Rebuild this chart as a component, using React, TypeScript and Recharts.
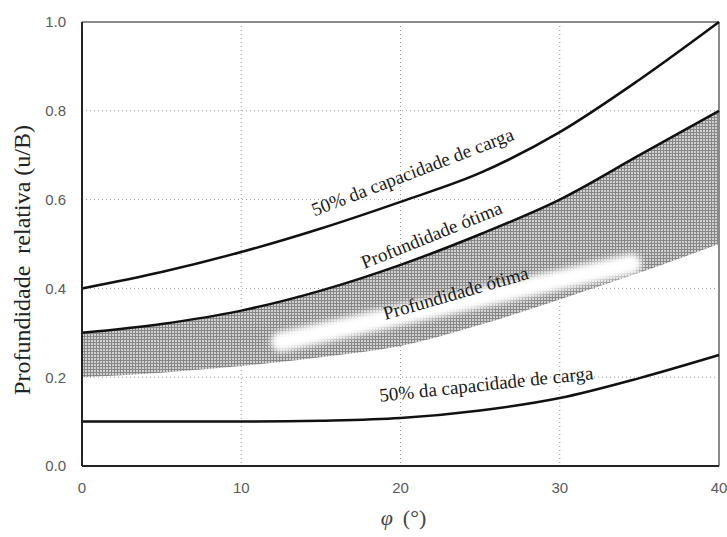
import React from 'react'
import {
    ComposedChart,
    Area,
    Line,
    XAxis,
    YAxis,
    CartesianGrid,
    ReferenceLine,
    ReferenceDot,
} from 'recharts'

// friction angle (degrees)
const phi = [0, 5, 10, 15, 20, 25, 30, 35, 40]
// 50% da capacidade de carga (upper limit)
const upperLimit = [0.4, 0.437, 0.482, 0.535, 0.595, 0.66, 0.752, 0.87, 1.0]
// profundidade otima band
const optTop = [0.3, 0.32, 0.35, 0.395, 0.453, 0.522, 0.6, 0.7, 0.8]
const optBottom = [0.2, 0.21, 0.225, 0.245, 0.27, 0.318, 0.375, 0.435, 0.5]
// 50% da capacidade de carga (lower limit)
const lowerLimit = [0.1, 0.1, 0.1, 0.102, 0.108, 0.125, 0.153, 0.198, 0.25]

const xTicks = [0, 10, 20, 30, 40]
const yTicks = [0, 0.2, 0.4, 0.6, 0.8, 1.0]

const annotations = [
    { x: 20.8, y: 0.658, angle: -21, text: '50% da capacidade de carga' },
    { x: 22.0, y: 0.516, angle: -22, text: 'Profundidade ótima' },
    { x: 23.5, y: 0.385, angle: -16, text: 'Profundidade ótima' },
    { x: 25.4, y: 0.18, angle: -6, text: '50% da capacidade de carga' },
]

const data = phi.map((p, i) => ({
    phi: p,
    upper: upperLimit[i],
    top: optTop[i],
    band: [optBottom[i], optTop[i]],
    lower: lowerLimit[i],
}))

const serif = '"Liberation Serif", "Times New Roman", serif'
const sans = '"Liberation Sans", Arial, sans-serif'

const RotatedText = ({ viewBox, angle, text }: any) => {
    const cx = viewBox.x + viewBox.width / 2
    const cy = viewBox.y + viewBox.height / 2
    return (
        <text
            x={cx}
            y={cy}
            textAnchor="middle"
            dominantBaseline="middle"
            transform={`rotate(${angle} ${cx} ${cy})`}
            fontFamily={serif}
            fontSize={19}
            fill="#1a1a1a"
        >
            {text}
        </text>
    )
}

export default function App() {
    return (
        <div style={{ position: 'absolute', left: 0, top: 0, background: '#fff' }}>
            <ComposedChart
                width={727}
                height={537}
                data={data}
                margin={{ top: 22, right: 8, left: 0, bottom: 0 }}
            >
                <defs>
                    <pattern id="hatch" width="3" height="3" patternUnits="userSpaceOnUse">
                        <rect width="3" height="3" fill="#d0d0d0" />
                        <path d="M0 0.5 H3 M0.5 0 V3" stroke="#878787" strokeWidth="1" />
                    </pattern>
                    <filter id="blur" x="-20%" y="-200%" width="140%" height="500%">
                        <feGaussianBlur stdDeviation="3" />
                    </filter>
                </defs>
                <CartesianGrid stroke="#9a9a9a" strokeDasharray="1 3" />
                <XAxis
                    dataKey="phi"
                    type="number"
                    domain={[0, 40]}
                    ticks={xTicks}
                    height={71}
                    axisLine={{ stroke: '#222', strokeWidth: 2 }}
                    tickLine={false}
                    tick={{ fontFamily: sans, fontSize: 15, fill: '#5a5a5a' }}
                    tickMargin={10}
                    label={(props: any) => {
                        const vb = props.viewBox
                        return (
                            <text
                                x={vb.x + vb.width / 2 + 3}
                                y={vb.y + 59}
                                textAnchor="middle"
                                fontFamily={serif}
                                fontSize={22}
                                fill="#444"
                            >
                                <tspan fontStyle="italic">φ</tspan>
                                <tspan dx={10}>(°)</tspan>
                            </text>
                        )
                    }}
                />
                <YAxis
                    type="number"
                    domain={[0, 1]}
                    ticks={yTicks}
                    width={82}
                    axisLine={{ stroke: '#222', strokeWidth: 2 }}
                    tickLine={false}
                    tick={{ fontFamily: sans, fontSize: 15, fill: '#5a5a5a' }}
                    tickMargin={10}
                    tickFormatter={(v: number) => v.toFixed(1)}
                    label={(props: any) => {
                        const cx = 24
                        const cy = 260
                        return (
                            <text
                                x={cx}
                                y={cy}
                                textAnchor="middle"
                                dominantBaseline="middle"
                                transform={`rotate(-90 ${cx} ${cy})`}
                                fontFamily={serif}
                                fontSize={24}
                                fill="#222"
                                style={{ whiteSpace: 'pre' }}
                            >
                                {'Profundidade\u00a0 relativa (u/B)'}
                            </text>
                        )
                    }}
                />
                <Area
                    dataKey="band"
                    type="monotone"
                    stroke="none"
                    fill="url(#hatch)"
                    fillOpacity={1}
                    isAnimationActive={false}
                    dot={false}
                    activeDot={false}
                />
                <ReferenceLine
                    segment={[{ x: 12.5, y: 0.28 }, { x: 34.5, y: 0.455 }]}
                    stroke="#fff"
                    strokeWidth={20}
                    strokeLinecap="round"
                    filter="url(#blur)"
                />
                <ReferenceLine y={1} stroke="#8a8a8a" strokeWidth={2} />
                <ReferenceLine x={40} stroke="#8a8a8a" strokeWidth={2} />
                <Line dataKey="upper" type="monotone" stroke="#111" strokeWidth={2.5} dot={false} activeDot={false} isAnimationActive={false} />
                <Line dataKey="top" type="monotone" stroke="#111" strokeWidth={2.5} dot={false} activeDot={false} isAnimationActive={false} />
                <Line dataKey="lower" type="monotone" stroke="#111" strokeWidth={2.5} dot={false} activeDot={false} isAnimationActive={false} />
                {annotations.map((a, i) => (
                    <ReferenceDot
                        key={i}
                        x={a.x}
                        y={a.y}
                        r={1}
                        fill="none"
                        stroke="none"
                        label={(props: any) => <RotatedText viewBox={props.viewBox} angle={a.angle} text={a.text} />}
                    />
                ))}
            </ComposedChart>
        </div>
    )
}
